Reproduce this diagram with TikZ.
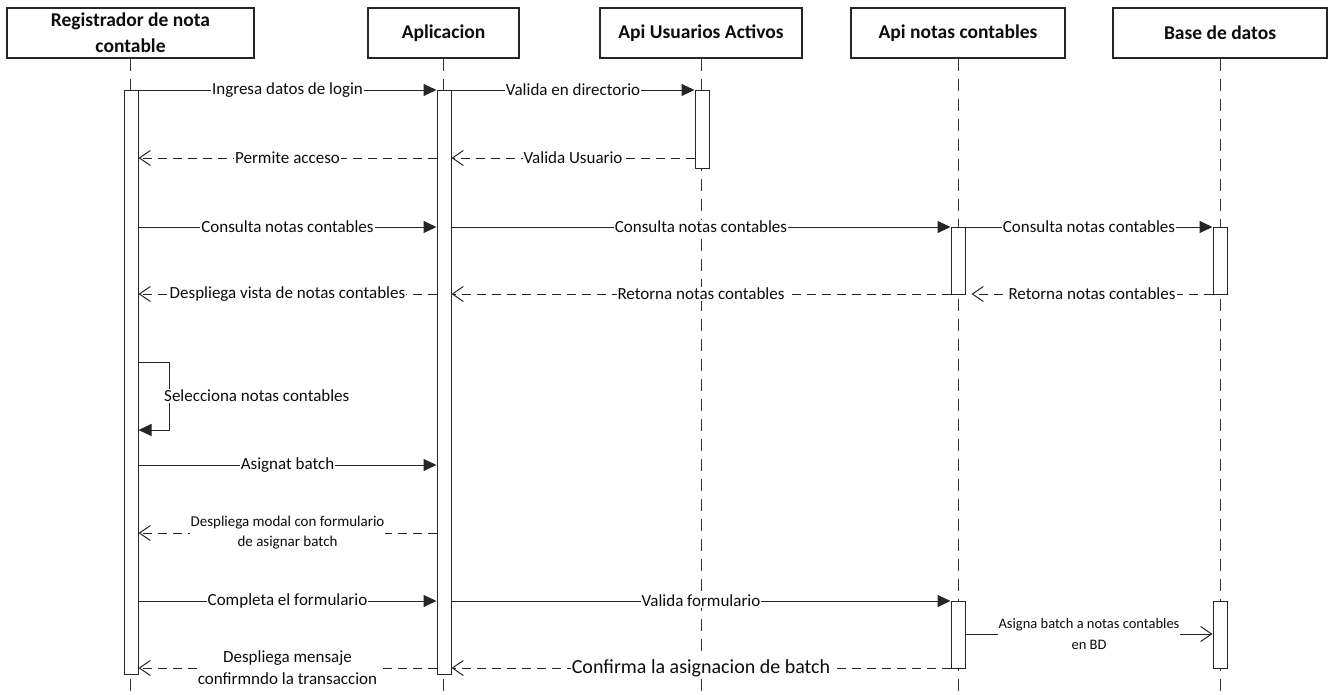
\documentclass[tikz,border=0pt]{standalone}
\usepackage{fontspec}
\setmainfont{Carlito}
\usetikzlibrary{arrows.meta}
\begin{document}
\begin{tikzpicture}[x=1pt,y=-1pt,
  head/.style={draw=black!85, line width=1.1pt, minimum height=50pt, inner sep=0pt,
    font=\bfseries\fontsize{19.5}{26}\selectfont, align=center, fill=white, text=black!95},
  life/.style={draw=black!80, line width=1pt, dash pattern=on 12pt off 8pt},
  actbar/.style={draw=black!85, line width=1pt, fill=white, minimum width=14pt, inner sep=0pt, anchor=north},
  msg/.style={draw=black!85, line width=1pt, -{Triangle[length=13pt,width=12pt]}},
  ret/.style={draw=black!85, line width=1pt, dash pattern=on 9pt off 6pt, -{Straight Barb[length=11pt,width=15pt]}},
  asyn/.style={draw=black!85, line width=1pt, -{Straight Barb[length=11pt,width=15pt]}},
  lbl/.style={fill=white, inner sep=1pt, font=\fontsize{17}{22}\selectfont, text=black!95, align=center},
]
\useasboundingbox (0,0) rectangle (1332,694);
% headers
\node[head, minimum width=247pt] (h1) at (130.5,33) {Registrador de nota\\contable};
\node[head, minimum width=151pt] (h2) at (443.5,33) {Aplicacion};
\node[head, minimum width=202pt] (h3) at (701,33) {Api Usuarios Activos};
\node[head, minimum width=214pt] (h4) at (958,33) {Api notas contables};
\node[head, minimum width=214pt] (h5) at (1220,33) {Base de datos};
% lifeline ends
\coordinate (e1) at (131,694);
\coordinate (e2) at (444,694);
\coordinate (e3) at (702,694);
\coordinate (e4) at (958,694);
\coordinate (e5) at (1220,694);
\draw[life] (h1.south) -- (h1.south |- e1);
\draw[life] (h2.south) -- (h2.south |- e2);
\draw[life] (h3.south) -- (h3.south |- e3);
\draw[life] (h4.south) -- (h4.south |- e4);
\draw[life] (h5.south) -- (h5.south |- e5);
% activation bars
\node[actbar, minimum height=584pt] (a1) at (131,90) {};
\node[actbar, minimum height=584pt] (a2) at (444,90) {};
\node[actbar, minimum height=78pt] (a3) at (702,90) {};
\node[actbar, minimum height=67pt] (a4) at (958,227) {};
\node[actbar, minimum height=67pt] (a5) at (1220,227) {};
\node[actbar, minimum height=67pt] (a6) at (958,601) {};
\node[actbar, minimum height=67pt] (a7) at (1220,601) {};
% message rows
\coordinate (y1) at (0,90);
\coordinate (y2) at (0,158);
\coordinate (y3) at (0,227);
\coordinate (y4) at (0,294);
\coordinate (y5) at (0,362);
\coordinate (y6) at (0,430);
\coordinate (y7) at (0,465);
\coordinate (y8) at (0,533);
\coordinate (y9) at (0,601);
\coordinate (y10) at (0,634);
\coordinate (y11) at (0,668);
% messages
\draw[msg] (a1.east |- y1) -- node[lbl] {Ingresa datos de login} (a2.west |- y1);
\draw[msg] (a2.east |- y1) -- node[lbl] {Valida en directorio} (a3.west |- y1);
\draw[ret] (a3.west |- y2) -- node[lbl] {Valida Usuario} (a2.east |- y2);
\draw[ret] (a2.west |- y2) -- node[lbl] {Permite acceso} (a1.east |- y2);
\draw[msg] (a1.east |- y3) -- node[lbl] {Consulta notas contables} (a2.west |- y3);
\draw[msg] (a2.east |- y3) -- node[lbl] {Consulta notas contables} (a4.west |- y3);
\draw[msg] (a4.east |- y3) -- node[lbl] {Consulta notas contables} (a5.west |- y3);
\draw[ret] (a5.west |- y4) -- node[lbl] {Retorna notas contables} ([xshift=6pt]a4.east |- y4);
\draw[ret] (a4.west |- y4) -- node[lbl] {Retorna notas contables} (a2.east |- y4);
\draw[ret] (a2.west |- y4) -- node[lbl] {Despliega vista de notas contables} (a1.east |- y4);
\draw[msg] (a1.east |- y5) -- ++(31,0) coordinate (sc) |- (a1.east |- y6);
\node[lbl, anchor=west] (sl) at (163,396) {Selecciona notas contables};
\draw[msg] (a1.east |- y7) -- node[lbl] {Asignat batch} (a2.west |- y7);
\draw[ret] (a2.west |- y8) -- node[lbl, font=\fontsize{15}{20}\selectfont] {Despliega modal con formulario\\de asignar batch} (a1.east |- y8);
\draw[msg] (a1.east |- y9) -- node[lbl] {Completa el formulario} (a2.west |- y9);
\draw[msg] (a2.east |- y9) -- node[lbl] {Valida formulario} (a6.west |- y9);
\draw[asyn] (a6.east |- y10) -- node[lbl, font=\fontsize{14.5}{21}\selectfont] {Asigna batch a notas contables\\en BD} (a7.west |- y10);
\draw[ret] (a6.west |- y11) -- node[lbl, font=\fontsize{20}{22}\selectfont] {Confirma la asignacion de batch} (a2.east |- y11);
\draw[ret] (a2.west |- y11) -- node[lbl] {Despliega mensaje\\confirmndo la transaccion} (a1.east |- y11);
\end{tikzpicture}
\end{document}
